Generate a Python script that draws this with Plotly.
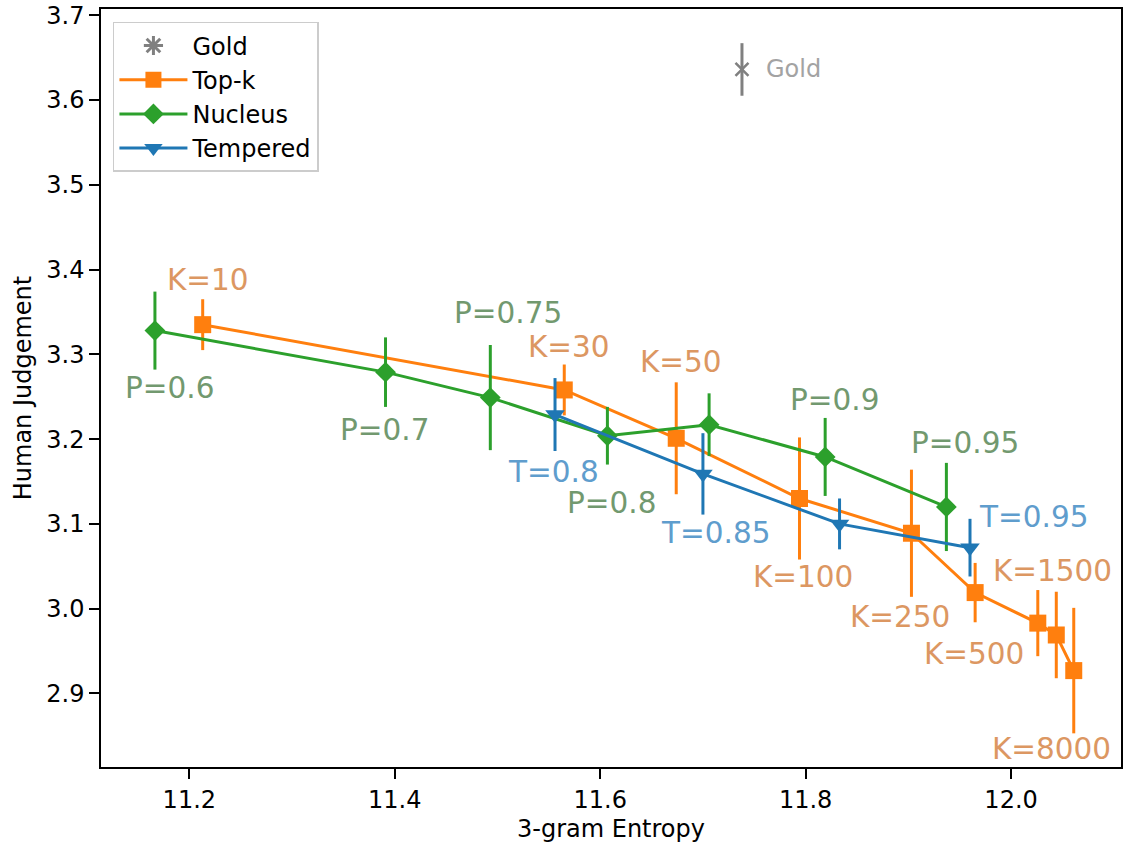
import plotly.graph_objects as go

# ---------------- data ----------------
gold_x = [11.738]
gold_y = [3.636]
gold_err = [0.031]

topk_labels = ["K=10", "K=30", "K=50", "K=100", "K=250", "K=500", "", "K=1500", "K=8000"]
topk_x = [11.213, 11.565, 11.674, 11.794, 11.903, 11.965, 12.026, 12.044, 12.061]
topk_y = [3.335, 3.258, 3.201, 3.130, 3.089, 3.019, 2.983, 2.969, 2.927]
topk_err = [0.030, 0.030, 0.066, 0.072, 0.075, 0.035, 0.039, 0.051, 0.074]

nucleus_labels = ["P=0.6", "P=0.7", "P=0.75", "P=0.8", "", "P=0.9", "P=0.95"]
nucleus_x = [11.1665, 11.391, 11.493, 11.607, 11.706, 11.819, 11.937]
nucleus_y = [3.328, 3.279, 3.249, 3.204, 3.217, 3.179, 3.120]
nucleus_err = [0.046, 0.041, 0.062, 0.034, 0.037, 0.046, 0.052]

temp_labels = ["T=0.8", "T=0.85", "", "T=0.95"]
temp_x = [11.556, 11.700, 11.833, 11.960]
temp_y = [3.229, 3.159, 3.100, 3.072]
temp_err = [0.043, 0.048, 0.030, 0.034]

x_ticks = [11.2, 11.4, 11.6, 11.8, 12.0]
y_ticks = [2.9, 3.0, 3.1, 3.2, 3.3, 3.4, 3.5, 3.6, 3.7]

# ---------------- style ----------------
C_ORANGE = "#ff7f0e"
C_GREEN = "#2ca02c"
C_BLUE = "#1f77b4"
C_GRAY = "#808080"
T_ORANGE = "#dc9762"
T_GREEN = "#72996f"
T_BLUE = "#5f9dcd"
T_GRAY = "#a3a3a3"
FONT = "DejaVu Sans"

# label pixel offsets (dx right, dy down) per point
topk_off = [(5, -45), (5, -43), (5, -76), (4, 79), (-11, 84), (-1, 61), (0, 0), (-4, -64), (-22, 78)]
nucleus_off = [(15, 57), (-1, 58), (18, -85), (4, 67), (0, 0), (9, -57), (19, -64)]
temp_off = [(-2, 57), (13, 59), (0, 0), (63, -31)]

fig = go.Figure()

def err(arr, color):
    return dict(type="data", array=arr, visible=True, thickness=3, width=0, color=color)

# Gold
fig.add_trace(go.Scatter(
    x=gold_x, y=gold_y, mode="markers", showlegend=False,
    marker=dict(symbol="x-thin-open", size=13, color=C_GRAY, line=dict(width=2.5, color=C_GRAY)),
    error_y=err(gold_err, C_GRAY)))
fig.add_trace(go.Scatter(
    x=[None], y=[None], mode="markers", name="Gold",
    marker=dict(symbol="asterisk-open", size=19, color=C_GRAY, line=dict(width=3, color=C_GRAY))))

fig.add_trace(go.Scatter(
    x=topk_x, y=topk_y, mode="lines+markers", name="Top-k",
    line=dict(color=C_ORANGE, width=3),
    marker=dict(symbol="square", size=17, color=C_ORANGE),
    error_y=err(topk_err, C_ORANGE)))
fig.add_trace(go.Scatter(
    x=nucleus_x, y=nucleus_y, mode="lines+markers", name="Nucleus",
    line=dict(color=C_GREEN, width=3),
    marker=dict(symbol="diamond", size=16, color=C_GREEN),
    error_y=err(nucleus_err, C_GREEN)))
fig.add_trace(go.Scatter(
    x=temp_x, y=temp_y, mode="lines+markers", name="Tempered",
    line=dict(color=C_BLUE, width=3),
    marker=dict(symbol="triangle-down", size=17, color=C_BLUE),
    error_y=err(temp_err, C_BLUE)))

annotations = []
def add_labels(xs, ys, labels, offs, color):
    for x, y, t, (dx, dy) in zip(xs, ys, labels, offs):
        if not t:
            continue
        annotations.append(dict(x=x, y=y, text=t, showarrow=False, xshift=dx, yshift=-dy,
                                font=dict(family=FONT, size=29.5, color=color),
                                xanchor="center", yanchor="middle"))

add_labels(topk_x, topk_y, topk_labels, topk_off, T_ORANGE)
add_labels(nucleus_x, nucleus_y, nucleus_labels, nucleus_off, T_GREEN)
add_labels(temp_x, temp_y, temp_labels, temp_off, T_BLUE)
annotations.append(dict(x=gold_x[0], y=gold_y[0], text="Gold", showarrow=False, xshift=22,
                        font=dict(family=FONT, size=24, color=T_GRAY), xanchor="left", yanchor="middle"))

axis_common = dict(showline=True, linecolor="black", linewidth=1.5, mirror=True,
                   ticks="outside", ticklen=10, tickwidth=1.5, tickcolor="black",
                   showgrid=False, zeroline=False,
                   tickfont=dict(family=FONT, size=24, color="black"))

fig.update_layout(
    width=1124, height=843,
    margin=dict(l=101, r=1, t=9, b=76),
    plot_bgcolor="white", paper_bgcolor="white",
    font=dict(family=FONT, size=24, color="black"),
    xaxis=dict(range=[11.114, 12.107], tickvals=x_ticks, ticktext=[f"{v:.1f}" for v in x_ticks],
               title=dict(text="3-gram Entropy", font=dict(family=FONT, size=24), standoff=8),
               **axis_common),
    yaxis=dict(range=[2.8133, 3.7073], tickvals=y_ticks, ticktext=[f"{v:.1f}" for v in y_ticks],
               title=dict(text="Human Judgement", font=dict(family=FONT, size=24), standoff=8),
               **axis_common),
    legend=dict(x=0.0117, y=0.983, xanchor="left", yanchor="top",
                bgcolor="white", bordercolor="#cccccc", borderwidth=1.5,
                font=dict(family=FONT, size=24), tracegroupgap=0, itemwidth=68),
    annotations=annotations,
)

fig.write_html("out.html")
